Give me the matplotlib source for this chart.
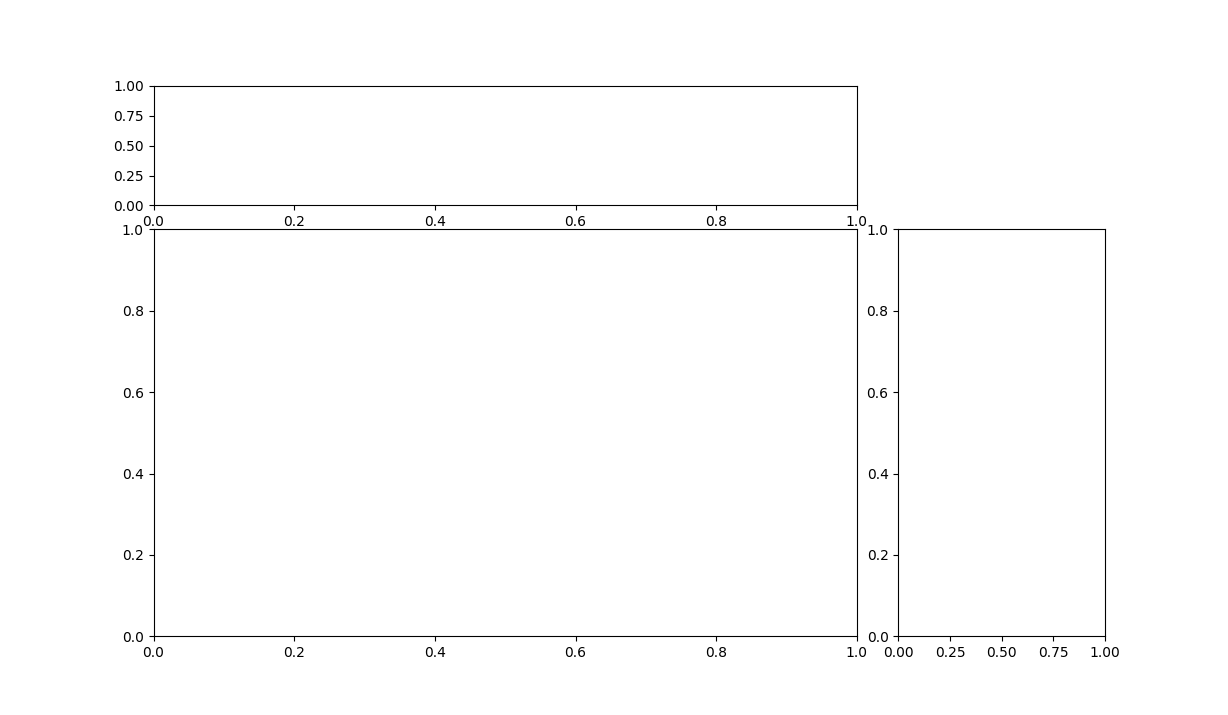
import matplotlib
matplotlib.use("Agg")
import matplotlib.pyplot as plt
from matplotlib.gridspec import GridSpec

# ==========================================
# Layout: 4x4 grid, marginal axes on top and right (no data drawn)
# ==========================================
fig = plt.figure(figsize=(12.28, 7.15), dpi=100)
gs = GridSpec(4, 4, figure=fig)

ax_top = fig.add_subplot(gs[0, 0:3])
ax_main = fig.add_subplot(gs[1:4, 0:3])
ax_right = fig.add_subplot(gs[1:4, 3])

fig.savefig("out.png", dpi=100)
